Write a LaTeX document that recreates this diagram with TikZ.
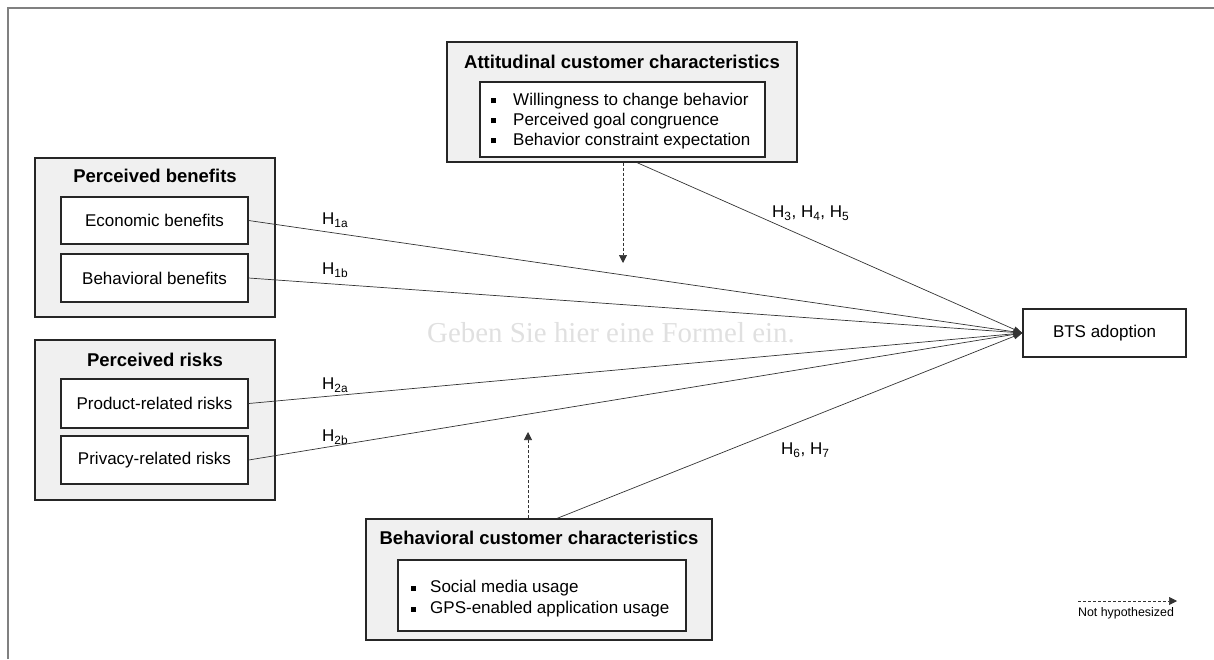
\documentclass[tikz,border=0pt]{standalone}
\usepackage{fontspec}
\setmainfont{Liberation Sans}
\newfontfamily\ghostfont{Liberation Serif}
\usetikzlibrary{arrows.meta}
\newcommand{\bsq}[1]{\makebox[#1][l]{\rule[2pt]{5pt}{5pt}}}
\tikzset{
  body/.style={font=\fontsize{17}{20}\selectfont},
  ttl/.style={font=\fontsize{18.5}{22}\selectfont\bfseries, inner sep=0pt},
  grpbox/.style={draw=black!85, line width=1.2pt, fill=black!6, minimum width=#1, inner sep=0pt},
  itembox/.style={draw=black!85, line width=1.2pt, fill=white, inner sep=0pt, body},
  hyp/.style={draw=black!80, line width=0.7pt, -{Triangle[length=9pt,width=6pt]}},
  nothyp/.style={draw=black!80, line width=0.7pt, dash pattern=on 3pt off 2pt, -{Triangle[length=8pt,width=8pt]}},
  hlab/.style={body, inner sep=0pt, anchor=west},
}
\begin{document}
\begin{tikzpicture}[x=1pt,y=-1pt]
\useasboundingbox (0,0) rectangle (1214,659);
\draw[gray, line width=1.3pt] (8,659) -- (8,8) -- (1214,8);

% ghost placeholder text
\node[font=\ghostfont\fontsize{28.9}{32}\selectfont, text=black!12, inner sep=0pt] (ghost) at (611,333) {Geben Sie hier eine Formel ein.};

% Perceived benefits
\node[grpbox=240pt, minimum height=159pt] (pb) at (155,237.5) {};
\node[ttl] (pbt) at (155,176) {Perceived benefits};
\node[itembox, minimum width=187pt, minimum height=47pt] (eb) at (154.5,220.5) {Economic benefits};
\node[itembox, minimum width=187pt, minimum height=48pt] (bb) at (154.5,278) {Behavioral benefits};

% Perceived risks
\node[grpbox=240pt, minimum height=160pt] (pr) at (155,420) {};
\node[ttl] (prt) at (155,360) {Perceived risks};
\node[itembox, minimum width=187pt, minimum height=49pt] (prr) at (154.5,403.5) {Product-related risks};
\node[itembox, minimum width=187pt, minimum height=48pt] (pvr) at (154.5,460) {Privacy-related risks};

% Attitudinal
\node[grpbox=350pt, minimum height=120pt] (att) at (622,102) {};
\node[ttl] (attt) at (622,62) {Attitudinal customer characteristics};
\node[itembox, minimum width=285pt, minimum height=75pt] (attin) at (622.5,119.5) {};
\node[body, anchor=west, align=left, inner sep=0pt] (attl) at (491,121)
  {\bsq{22pt}Willingness to change behavior\\ \bsq{22pt}Perceived goal congruence\\ \bsq{22pt}Behavior constraint expectation};

% Behavioral
\node[grpbox=346pt, minimum height=121pt] (beh) at (539,579.5) {};
\node[ttl] (beht) at (539,538) {Behavioral customer characteristics};
\node[itembox, minimum width=288pt, minimum height=71pt] (behin) at (542,595.5) {};
\node[font=\fontsize{17}{21}\selectfont, anchor=west, align=left, inner sep=0pt] (behl) at (411,599)
  {\bsq{19pt}Social media usage\\ \bsq{19pt}GPS-enabled application usage};

% BTS
\node[itembox, minimum width=163pt, minimum height=48pt] (bts) at (1104.5,333) {BTS adoption};

% hypothesized paths
\draw[hyp] (eb.east) -- (bts.west);
\draw[hyp] (bb.east) -- (bts.west);
\draw[hyp] (prr.east) -- (bts.west);
\draw[hyp] (pvr.east) -- (bts.west);
\draw[hyp] ([xshift=15pt]att.south) -- (bts.west);
\draw[hyp] ([xshift=18pt]beh.north) -- (bts.west);

\node[hlab] (h1a) at (322,220) {H\textsubscript{1a}};
\node[hlab] (h1b) at (322,270) {H\textsubscript{1b}};
\node[hlab] (h2a) at (322,385) {H\textsubscript{2a}};
\node[hlab] (h2b) at (322,437) {H\textsubscript{2b}};
\node[hlab] (h345) at (772,213) {H\textsubscript{3}, H\textsubscript{4}, H\textsubscript{5}};
\node[hlab] (h67) at (781,450) {H\textsubscript{6}, H\textsubscript{7}};

% not hypothesized (moderating)
\coordinate (attdn) at (623,263);
\coordinate (behup) at (528,432);
\draw[nothyp] ([xshift=1pt]att.south) -- (attdn);
\draw[nothyp] ([xshift=-11pt]beh.north) -- (behup);

% legend
\coordinate (lg1) at (1078,601);
\coordinate (lg2) at (1177,601);
\draw[nothyp] (lg1) -- (lg2);
\node[font=\fontsize{12.4}{14}\selectfont, inner sep=0pt] (lgt) at (1126,613) {Not hypothesized};
\end{tikzpicture}
\end{document}
